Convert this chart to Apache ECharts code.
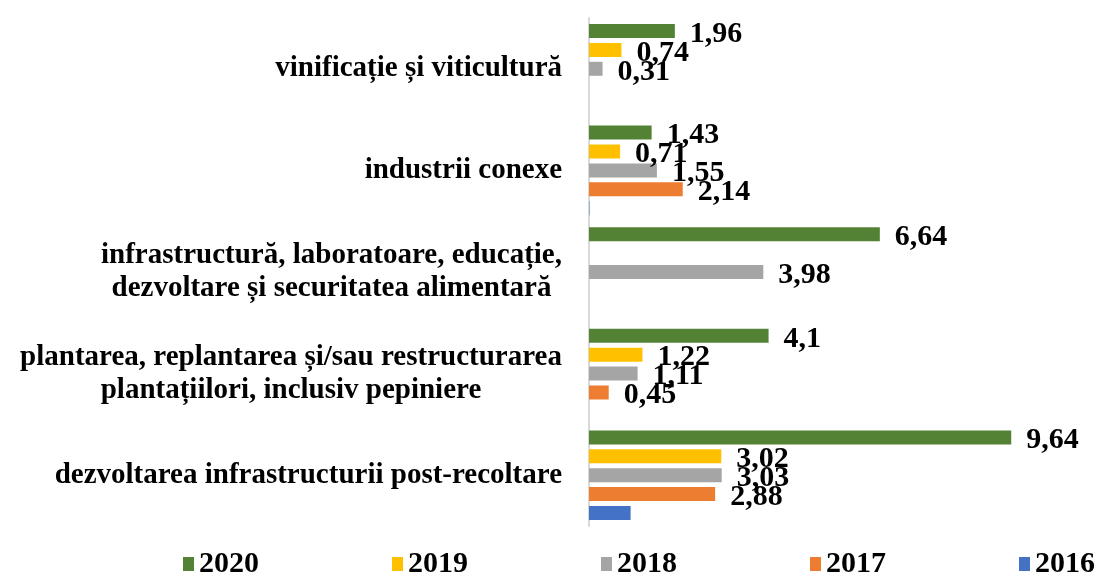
<!DOCTYPE html>
<html>
<head>
<meta charset="utf-8">
<script src="https://cdn.jsdelivr.net/npm/echarts@6/dist/echarts.min.js"></script>
<style>
  html, body { margin: 0; padding: 0; background: #fff; }
  #chart { width: 1100px; height: 574px; }
</style>
</head>
<body>
<div id="chart"></div>
<script>
// categories, bottom to top
let categories = [
  'dezvoltarea infrastructurii post-recoltare',
  'plantarea, replantarea și/sau restructurarea\nplantațiilori, inclusiv pepiniere',
  'infrastructură, laboratoare, educație,\ndezvoltare și securitatea alimentară',
  'industrii conexe',
  'vinificație și viticultură'
];
let years = ['2020', '2019', '2018', '2017', '2016'];
let colors = ['#548235', '#FFC000', '#A5A5A5', '#ED7D31', '#4472C4'];

let v2020 = [9.64, 4.1, 6.64, 1.43, 1.96];
let v2019 = [3.02, 1.22, null, 0.71, 0.74];
let v2018 = [3.03, 1.11, 3.98, 1.55, 0.31];
let v2017 = [2.88, 0.45, null, 2.14, null];
let v2016 = [0.95, null, null, 0.01, null];

let values = [v2020, v2019, v2018, v2017, v2016];

let myChart = echarts.init(document.getElementById('chart'));
let font = '"Liberation Serif", "Times New Roman", serif';
let catSize = 29;

// two-line labels: lines centred on each other, block right aligned
let ctx = document.createElement('canvas').getContext('2d');
ctx.font = 'bold ' + catSize + 'px ' + font;
let rich = {};
let catFormatter = (v, idx) => {
  if (v.indexOf('\n') < 0) return v;
  let lines = v.split('\n');
  let w = Math.max(...lines.map(l => ctx.measureText(l).width));
  rich['c' + idx] = { width: Math.ceil(w), align: 'center' };
  return lines.map(l => '{c' + idx + '|' + l + '}').join('\n');
};
categories.forEach((c, i) => catFormatter(c, i));

let series = years.map((y, i) => ({
  name: y,
  type: 'bar',
  data: values[i],
  barWidth: 14,
  barGap: '35%',
  itemStyle: { color: colors[i] },
  label: {
    show: y !== '2016',
    position: 'right',
    distance: 15,
    offset: [0, 3],
    color: '#000',
    fontFamily: font,
    fontWeight: 'bold',
    fontSize: 30,
    formatter: p => String(p.value).replace('.', ',')
  }
}));

let option = {
  animation: false,
  grid: { left: 589, width: 438, top: 18, bottom: 48 },
  legend: {
    data: years,
    left: 183,
    top: 549,
    padding: 0,
    itemGap: 133,
    itemWidth: 11,
    itemHeight: 14,
    icon: 'rect',
    textStyle: { fontFamily: font, fontWeight: 'bold', fontSize: 30, color: '#000' }
  },
  xAxis: {
    type: 'value',
    min: 0,
    max: 10,
    show: false
  },
  yAxis: {
    type: 'category',
    data: categories,
    axisLine: { lineStyle: { color: '#d9d9d9', width: 2 } },
    axisTick: { show: false },
    axisLabel: {
      margin: 27,
      color: '#000',
      fontFamily: font,
      fontWeight: 'bold',
      fontSize: catSize,
      lineHeight: 33,
      align: 'right',
      formatter: catFormatter,
      rich: rich
    }
  },
  series: series
};

myChart.setOption(option);
</script>
</body>
</html>
